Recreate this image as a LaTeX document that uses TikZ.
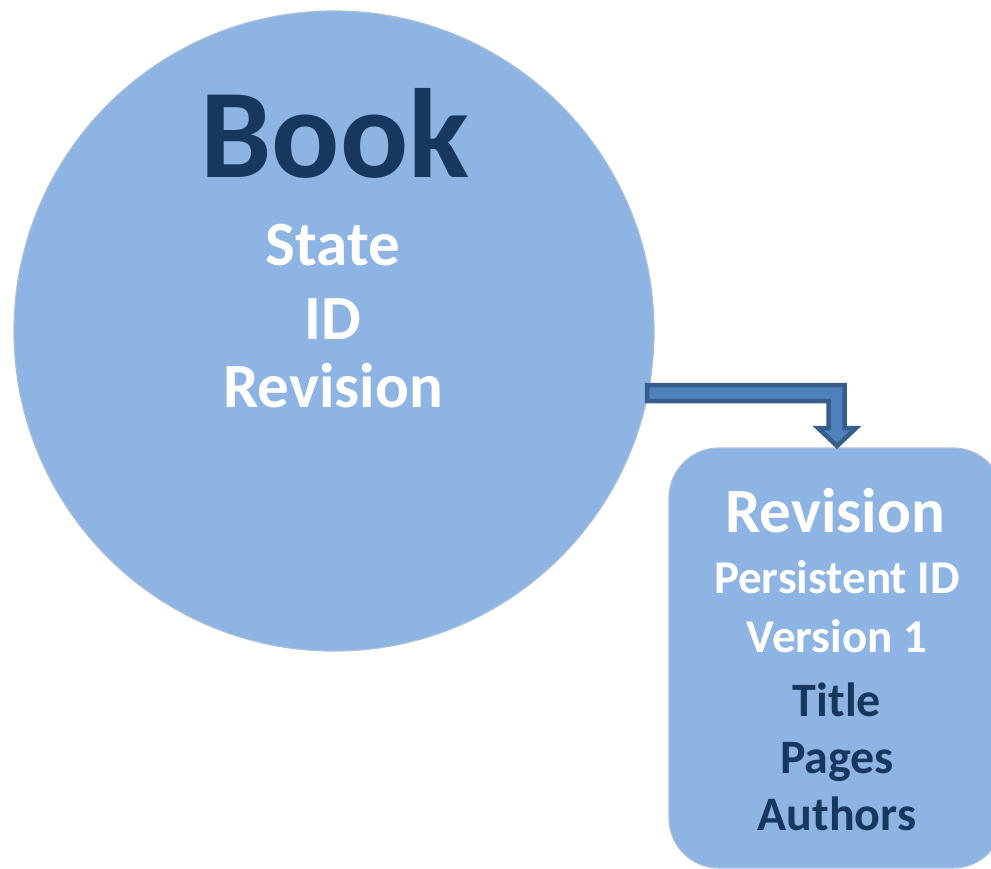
\documentclass[tikz,border=0pt]{standalone}
\usepackage{fontspec}
\setmainfont{Carlito}
\definecolor{shapefill}{HTML}{8EB4E3}
\definecolor{shapeedge}{HTML}{A9BFD9}
\definecolor{navy}{HTML}{17375E}
\definecolor{arrowfill}{HTML}{4F81BD}
\definecolor{arrowedge}{HTML}{385D8A}
\tikzset{
  shapestyle/.style={fill=shapefill, draw=shapeedge, line width=1.2pt},
  lbl/.style={anchor=base, inner sep=0pt, font=\bfseries},
  whitetxt/.style={lbl, text=white},
  navytxt/.style={lbl, text=navy},
  blockarrow/.style={fill=arrowfill, draw=arrowedge, line width=4.5pt, line join=miter}
}
\newcommand{\fs}[1]{\fontsize{#1}{#1}\selectfont}
\begin{document}
\begin{tikzpicture}[x=1pt,y=-1pt]
\useasboundingbox (0,0) rectangle (991,868);
% Book circle
\node[shapestyle, circle, minimum size=640pt, inner sep=0pt] (book) at (334,331) {};
\node[navytxt, font=\bfseries\fs{127}] (booktitle) at (335,177) {Book};
\node[whitetxt, font=\bfseries\fs{63}] (state) at (333,265) {State};
\node[whitetxt, font=\bfseries\fs{63}] (id) at (333,339) {ID};
\node[whitetxt, font=\bfseries\fs{63}] (revref) at (333,407) {Revision};
% Revision box
\node[shapestyle, rectangle, rounded corners=50pt, minimum width=334pt, minimum height=420pt, inner sep=0pt] (rev) at (836,658) {};
\node[whitetxt, font=\bfseries\fs{63}] (revtitle) at (835,532) {Revision};
\node[whitetxt, font=\bfseries\fs{47}] (pid) at (837,593) {Persistent ID};
\node[whitetxt, font=\bfseries\fs{47}] (ver) at (837,652) {Version 1};
\node[navytxt, font=\bfseries\fs{48}] (title) at (837,716) {Title};
\node[navytxt, font=\bfseries\fs{48}] (pages) at (837,773) {Pages};
\node[navytxt, font=\bfseries\fs{48}] (authors) at (837,830) {Authors};
% connector: block elbow arrow from book to revision
\draw[blockarrow] (647,385) -- (844.5,385) -- (844.5,428) -- (856,428) -- (837,446)
  -- (818,428) -- (828.5,428) -- (828.5,401) -- (647,401) -- cycle;
\end{tikzpicture}
\end{document}
